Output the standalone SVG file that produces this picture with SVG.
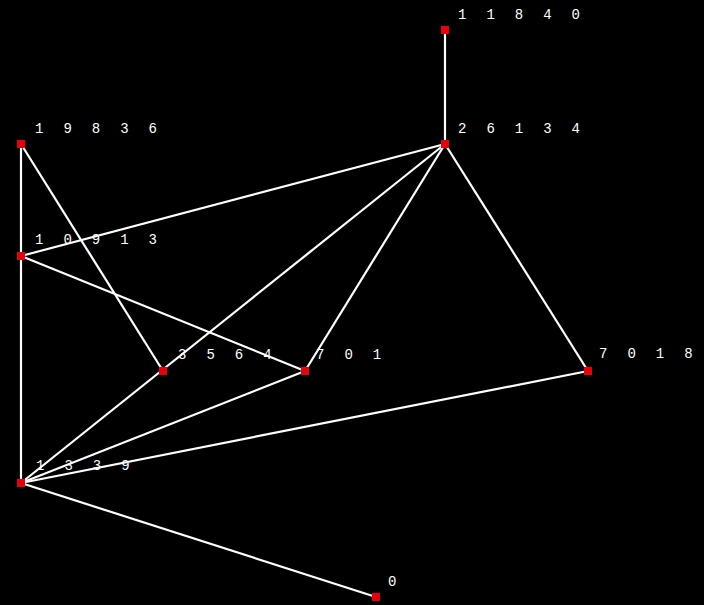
<svg xmlns="http://www.w3.org/2000/svg" width="704" height="605" viewBox="0 0 704 605">
<style>
.e{stroke:#fff;stroke-width:2.2;fill:none}
.n{fill:#e8000b}
.t{fill:#fff;font-family:"Liberation Mono",monospace;font-size:14px;letter-spacing:5.8px}
</style>
<rect width="704" height="605" fill="#000"/>
<g id="edges">
<line class="e" x1="445" y1="30" x2="445" y2="144"/>
<line class="e" x1="21" y1="144" x2="21" y2="483"/>
<line class="e" x1="21" y1="144" x2="163" y2="371"/>
<line class="e" x1="21" y1="256" x2="445" y2="144"/>
<line class="e" x1="21" y1="256" x2="305" y2="371"/>
<line class="e" x1="21" y1="483" x2="445" y2="144"/>
<line class="e" x1="305" y1="371" x2="445" y2="144"/>
<line class="e" x1="588" y1="371" x2="445" y2="144"/>
<line class="e" x1="21" y1="483" x2="305" y2="371"/>
<line class="e" x1="21" y1="483" x2="588" y2="371"/>
<line class="e" x1="21" y1="483" x2="376" y2="597"/>
</g>
<g id="n11840"><rect class="n" x="441" y="26" width="8" height="8"/><text class="t" x="458" y="19">1 1 8 4 0</text></g>
<g id="n26134"><rect class="n" x="441" y="140" width="8" height="8"/><text class="t" x="458" y="133">2 6 1 3 4</text></g>
<g id="n19836"><rect class="n" x="17" y="140" width="8" height="8"/><text class="t" x="35" y="133">1 9 8 3 6</text></g>
<g id="n10913"><rect class="n" x="17" y="252" width="8" height="8"/><text class="t" x="35" y="244">1 0 9 1 3</text></g>
<g id="n3564"><rect class="n" x="159" y="367" width="8" height="8"/><text class="t" x="178" y="359">3 5 6 4</text></g>
<g id="n701"><rect class="n" x="301" y="367" width="8" height="8"/><text class="t" x="316" y="359">7 0 1</text></g>
<g id="n7018"><rect class="n" x="584" y="367" width="8" height="8"/><text class="t" x="599" y="358">7 0 1 8</text></g>
<g id="n1339"><rect class="n" x="17" y="479" width="8" height="8"/><text class="t" x="36" y="470">1 3 3 9</text></g>
<g id="n0"><rect class="n" x="372" y="593" width="8" height="8"/><text class="t" x="388" y="586">0</text></g>
</svg>
